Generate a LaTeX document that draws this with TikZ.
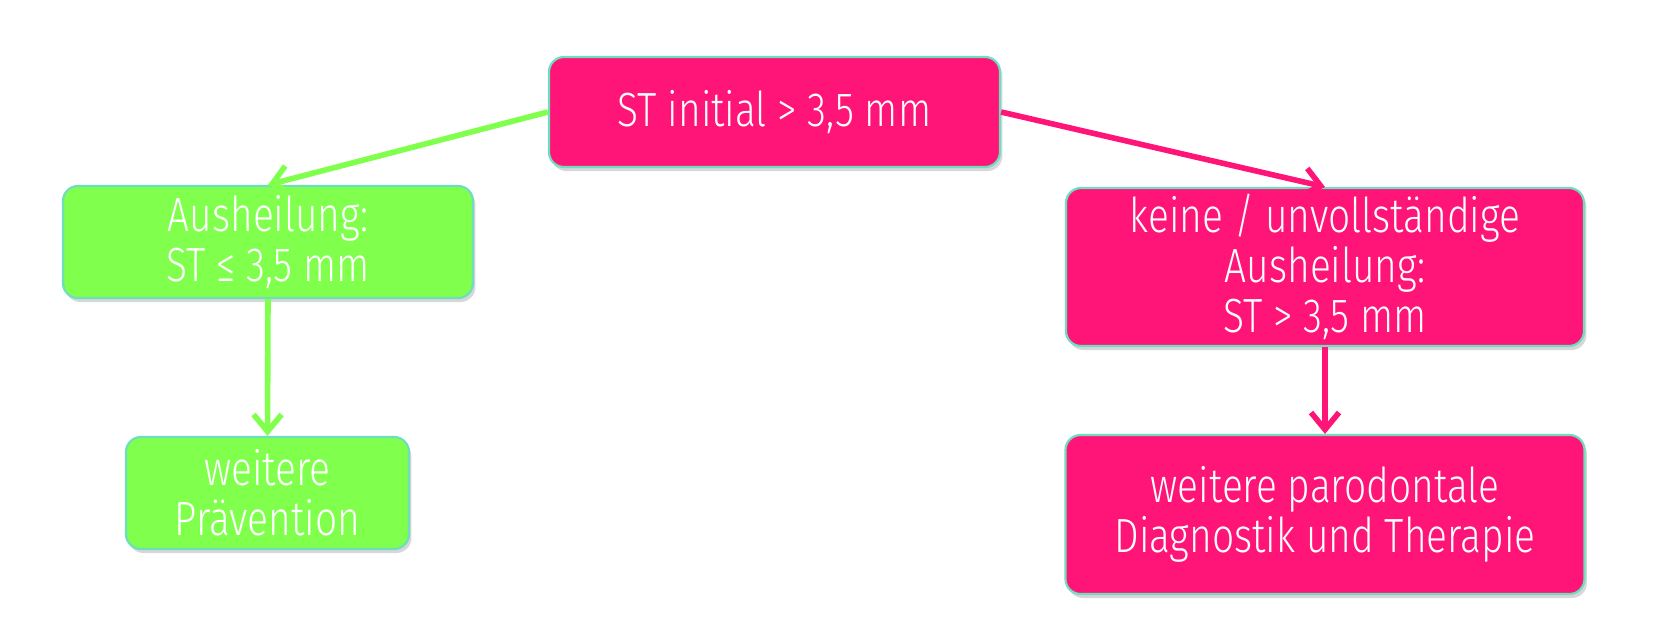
\documentclass[tikz,border=0pt]{standalone}
\usepackage{fontspec}
\setmainfont{Fira Sans}[UprightFont=* Light, FakeStretch=0.81]
\usetikzlibrary{arrows.meta,shadows}
\definecolor{pinkbox}{RGB}{255,20,120}
\definecolor{greenbox}{RGB}{128,255,77}
\definecolor{rimcol}{RGB}{110,222,190}
\tikzset{
  box/.style={rectangle, rounded corners=7.5pt, draw=rimcol, line width=1.1pt,
    text=white, align=center, inner sep=0pt,
    font=\fontsize{24}{25}\selectfont,
    drop shadow={shadow xshift=1.2pt, shadow yshift=-2pt, opacity=0.22, fill=black!70}},
  pinkb/.style={box, fill=pinkbox},
  greenb/.style={box, fill=greenbox},
  conn/.style={line width=2.8pt, -{Straight Barb[length=8.5pt,width=14pt,line width=2.8pt]}},
}
\begin{document}
\begin{tikzpicture}[x=0.5pt,y=-0.5pt]
\useasboundingbox (0,0) rectangle (1654,622);
\fill[white] (0,0) rectangle (1654,622);
\node[pinkb, minimum width=225.5pt, minimum height=55pt] (top) at (774.5,112) {ST initial > 3,5 mm};
\node[greenb, minimum width=205pt, minimum height=56pt] (g1) at (268,242) {Ausheilung:\\ST ≤ 3,5 mm};
\node[greenb, minimum width=141.5pt, minimum height=56pt] (g2) at (267.5,493) {weitere\\Prävention};
\node[pinkb, minimum width=259pt, minimum height=79pt] (p1) at (1325,267) {keine / unvollständige\\Ausheilung:\\ST > 3,5 mm};
\node[pinkb, minimum width=259.5pt, minimum height=79.5pt] (p2) at (1325,514.5) {weitere parodontale\\Diagnostik und Therapie};
\draw[conn, draw=greenbox] (top.west) -- (g1.north);
\draw[conn, draw=greenbox] (g1.south) -- (g2.north);
\draw[conn, draw=pinkbox] (top.east) -- (p1.north);
\draw[conn, draw=pinkbox] (p1.south) -- (p2.north);
\end{tikzpicture}
\end{document}
